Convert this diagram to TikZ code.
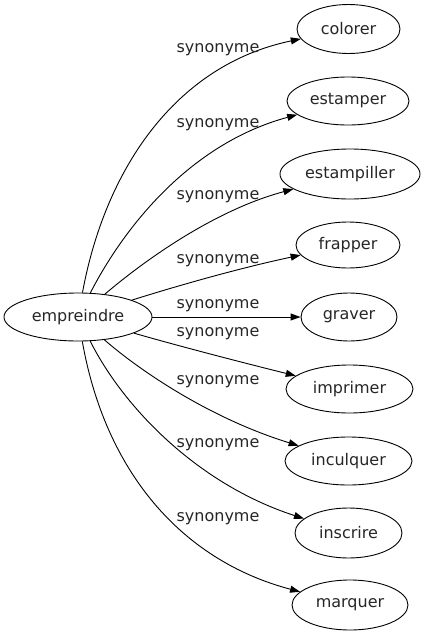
\documentclass[tikz,border=0pt]{standalone}
\usepackage{fontspec}
\setmainfont{DejaVu Sans}
\usetikzlibrary{shapes.geometric,arrows.meta}
\begin{document}
\begin{tikzpicture}[x=1pt,y=-1pt,
  word/.style={ellipse,draw,line width=0.9pt,inner sep=0pt,minimum height=48pt,
    font=\fontsize{16}{19}\selectfont,text=black!85},
  lab/.style={font=\fontsize{16}{19}\selectfont,text=black!85,inner sep=0pt},
  link/.style={line width=0.9pt,-{Triangle[length=10pt,width=7pt]}}]
\useasboundingbox (0,0) rectangle (426,635);
\node[word,minimum width=148pt] (e) at (78,317) {empreindre};
\node[word,minimum width=103pt,minimum height=49pt] (colorer) at (348.5,29) {colorer};
\node[word,minimum width=122pt] (estamper) at (348,101) {estamper};
\node[word,minimum width=140pt,minimum height=50pt] (estampiller) at (350,174) {estampiller};
\node[word,minimum width=104pt,minimum height=46pt] (frapper) at (348,245) {frapper};
\node[word,minimum width=96pt] (graver) at (349,317) {graver};
\node[word,minimum width=127pt] (imprimer) at (349.5,389) {imprimer};
\node[word,minimum width=127pt] (inculquer) at (348.5,461) {inculquer};
\node[word,minimum width=107pt,minimum height=50pt] (inscrire) at (348.5,533) {inscrire};
\node[word,minimum width=116pt,minimum height=50pt] (marquer) at (350,605) {marquer};
\draw[link] (e) .. controls (105,170) and (175,65) .. (colorer);
\draw[link] (e) .. controls (120,235) and (185,145) .. (estamper);
\draw[link] (e) .. controls (145,260) and (215,210) .. (estampiller);
\draw[link] (e) .. controls (180,285) and (240,268) .. (frapper);
\draw[link] (e) -- (graver);
\draw[link] (e) .. controls (175,345) and (240,362) .. (imprimer);
\draw[link] (e) .. controls (145,375) and (215,420) .. (inculquer);
\draw[link] (e) .. controls (125,410) and (200,485) .. (inscrire);
\draw[link] (e) .. controls (105,470) and (180,560) .. (marquer);
\node[lab] (l1) at (218,50) {synonyme};
\node[lab] (l2) at (218,125) {synonyme};
\node[lab] (l3) at (218,197) {synonyme};
\node[lab] (l4) at (218,261) {synonyme};
\node[lab] (l5) at (218,306) {synonyme};
\node[lab] (l6) at (218,334) {synonyme};
\node[lab] (l7) at (218,382) {synonyme};
\node[lab] (l8) at (218,445) {synonyme};
\node[lab] (l9) at (218,519) {synonyme};
\end{tikzpicture}
\end{document}
